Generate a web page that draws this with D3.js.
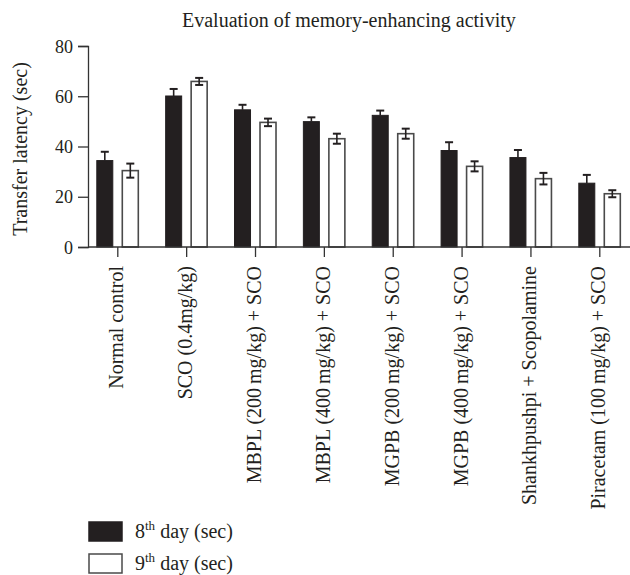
<!DOCTYPE html>
<html>
<head>
<meta charset="utf-8">
<script src="https://cdn.jsdelivr.net/npm/d3@7/dist/d3.min.js"></script>
<style>
  html, body { margin: 0; padding: 0; background: #fff; }
  svg { display: block; }
  text { font-family: "Liberation Serif", "DejaVu Serif", serif; fill: #231f20; }
</style>
</head>
<body>
<svg id="chart" width="630" height="575"></svg>
<script>
const categories = [
  "Normal control",
  "SCO (0.4mg/kg)",
  "MBPL (200\u2009mg/kg) + SCO",
  "MBPL (400\u2009mg/kg) + SCO",
  "MGPB (200\u2009mg/kg) + SCO",
  "MGPB (400\u2009mg/kg) + SCO",
  "Shankhpushpi + Scopolamine",
  "Piracetam (100\u2009mg/kg) + SCO"
];
const day8 = [34.4, 60.1, 54.6, 49.9, 52.4, 38.4, 35.6, 25.4];
const day8Err = [3.5, 2.8, 2.0, 1.7, 1.9, 3.3, 3.0, 3.3];
const day9 = [30.4, 65.9, 49.6, 43.1, 45.1, 32.1, 27.2, 21.2];
const day9Err = [2.8, 1.4, 1.5, 2.0, 2.0, 2.0, 2.3, 1.4];
const yTicks = [0, 20, 40, 60, 80];
const seriesNames = ["8th", "9th"];

const ink = "#231f20";
const serif = "'Liberation Serif', 'DejaVu Serif', serif";
const svg = d3.select("#chart");

const y = d3.scaleLinear().domain([0, 80]).range([247, 46]);
const x = d3.scalePoint().domain(categories).range([117.3, 599.3]);
const sub = d3.scaleBand().domain(seriesNames).range([-20.5, 21]).paddingInner(0.3725).paddingOuter(0);

// Title
svg.append("text")
  .attr("x", 182).attr("y", 27)
  .attr("font-family", serif)
  .style("font-size", "20px")
  .text("Evaluation of memory-enhancing activity");

// Y axis
const yAxis = svg.append("g")
  .attr("transform", "translate(88,0)")
  .call(d3.axisLeft(y).tickValues(yTicks).tickSize(10).tickPadding(5).tickFormat(d3.format("d")));
yAxis.attr("font-family", serif).attr("font-size", 18);
yAxis.select(".domain").attr("stroke", "#333").attr("stroke-width", 1.3);
yAxis.selectAll(".tick line").attr("stroke", "#333").attr("stroke-width", 1.3);
yAxis.selectAll(".tick text").attr("fill", ink).attr("dy", "0.34em");

// Y label
svg.append("text")
  .attr("transform", "translate(27,149) rotate(-90)")
  .attr("text-anchor", "middle")
  .attr("font-family", serif)
  .style("font-size", "20px")
  .text("Transfer latency (sec)");

// Bars
const groups = svg.append("g").selectAll("g.grp")
  .data(categories)
  .join("g")
  .attr("class", "grp")
  .attr("transform", d => `translate(${x(d)},0)`);

groups.append("rect")
  .attr("x", sub("8th"))
  .attr("width", sub.bandwidth())
  .attr("y", (d, i) => y(day8[i]))
  .attr("height", (d, i) => y(0) - y(day8[i]))
  .attr("fill", ink)
  .attr("stroke", ink).attr("stroke-width", 1);

groups.append("rect")
  .attr("x", sub("9th"))
  .attr("width", sub.bandwidth())
  .attr("y", (d, i) => y(day9[i]))
  .attr("height", (d, i) => y(0) - y(day9[i]))
  .attr("fill", "#fff")
  .attr("stroke", "#4a4a4a").attr("stroke-width", 1.6);

// Error bars
const cap = 4;
function errBar(g, cx, lo, hi, bottomCap) {
  g.append("line").attr("x1", cx).attr("x2", cx).attr("y1", y(lo)).attr("y2", y(hi))
    .attr("stroke", ink).attr("stroke-width", 1.6);
  g.append("line").attr("x1", cx - cap).attr("x2", cx + cap).attr("y1", y(hi)).attr("y2", y(hi))
    .attr("stroke", ink).attr("stroke-width", 2);
  if (bottomCap) {
    g.append("line").attr("x1", cx - cap).attr("x2", cx + cap).attr("y1", y(lo)).attr("y2", y(lo))
      .attr("stroke", ink).attr("stroke-width", 2);
  }
}
groups.each(function(d, i) {
  const g = d3.select(this);
  const c8 = sub("8th") + sub.bandwidth() / 2;
  const c9 = sub("9th") + sub.bandwidth() / 2;
  errBar(g, c8, day8[i], day8[i] + day8Err[i], false);
  errBar(g, c9, day9[i] - day9Err[i], day9[i] + day9Err[i], true);
});

// X axis
svg.append("line").attr("x1", 88).attr("x2", 630).attr("y1", y(0)).attr("y2", y(0))
  .attr("stroke", "#333").attr("stroke-width", 1.3);
const xAxis = svg.append("g")
  .attr("transform", `translate(0,${y(0)})`)
  .call(d3.axisBottom(x).tickSize(10).tickFormat(""));
xAxis.select(".domain").remove();
xAxis.selectAll(".tick line").attr("stroke", "#333").attr("stroke-width", 1.3);

// Category labels
svg.append("g").selectAll("text")
  .data(categories)
  .join("text")
  .attr("transform", d => `translate(${x(d) + 6},266) rotate(-90)`)
  .attr("text-anchor", "end")
  .attr("font-family", serif)
  .style("font-size", "20px")
  .text(d => d);

// Legend
const legend = svg.append("g");
const legendData = [
  { key: "8", fill: ink, stroke: ink, y: 522 },
  { key: "9", fill: "#fff", stroke: "#4a4a4a", y: 554 }
];
legendData.forEach(l => {
  legend.append("rect").attr("x", 89).attr("y", l.y).attr("width", 33).attr("height", 19)
    .attr("fill", l.fill).attr("stroke", l.stroke).attr("stroke-width", 1.5);
  const t = legend.append("text").attr("x", 135).attr("y", l.y + 15.5)
    .attr("font-family", serif).style("font-size", "20px");
  t.append("tspan").text(l.key);
  t.append("tspan").attr("dy", -8).style("font-size", "13px").text("th");
  t.append("tspan").attr("dy", 8).text(" day (sec)");
});
</script>
</body>
</html>
